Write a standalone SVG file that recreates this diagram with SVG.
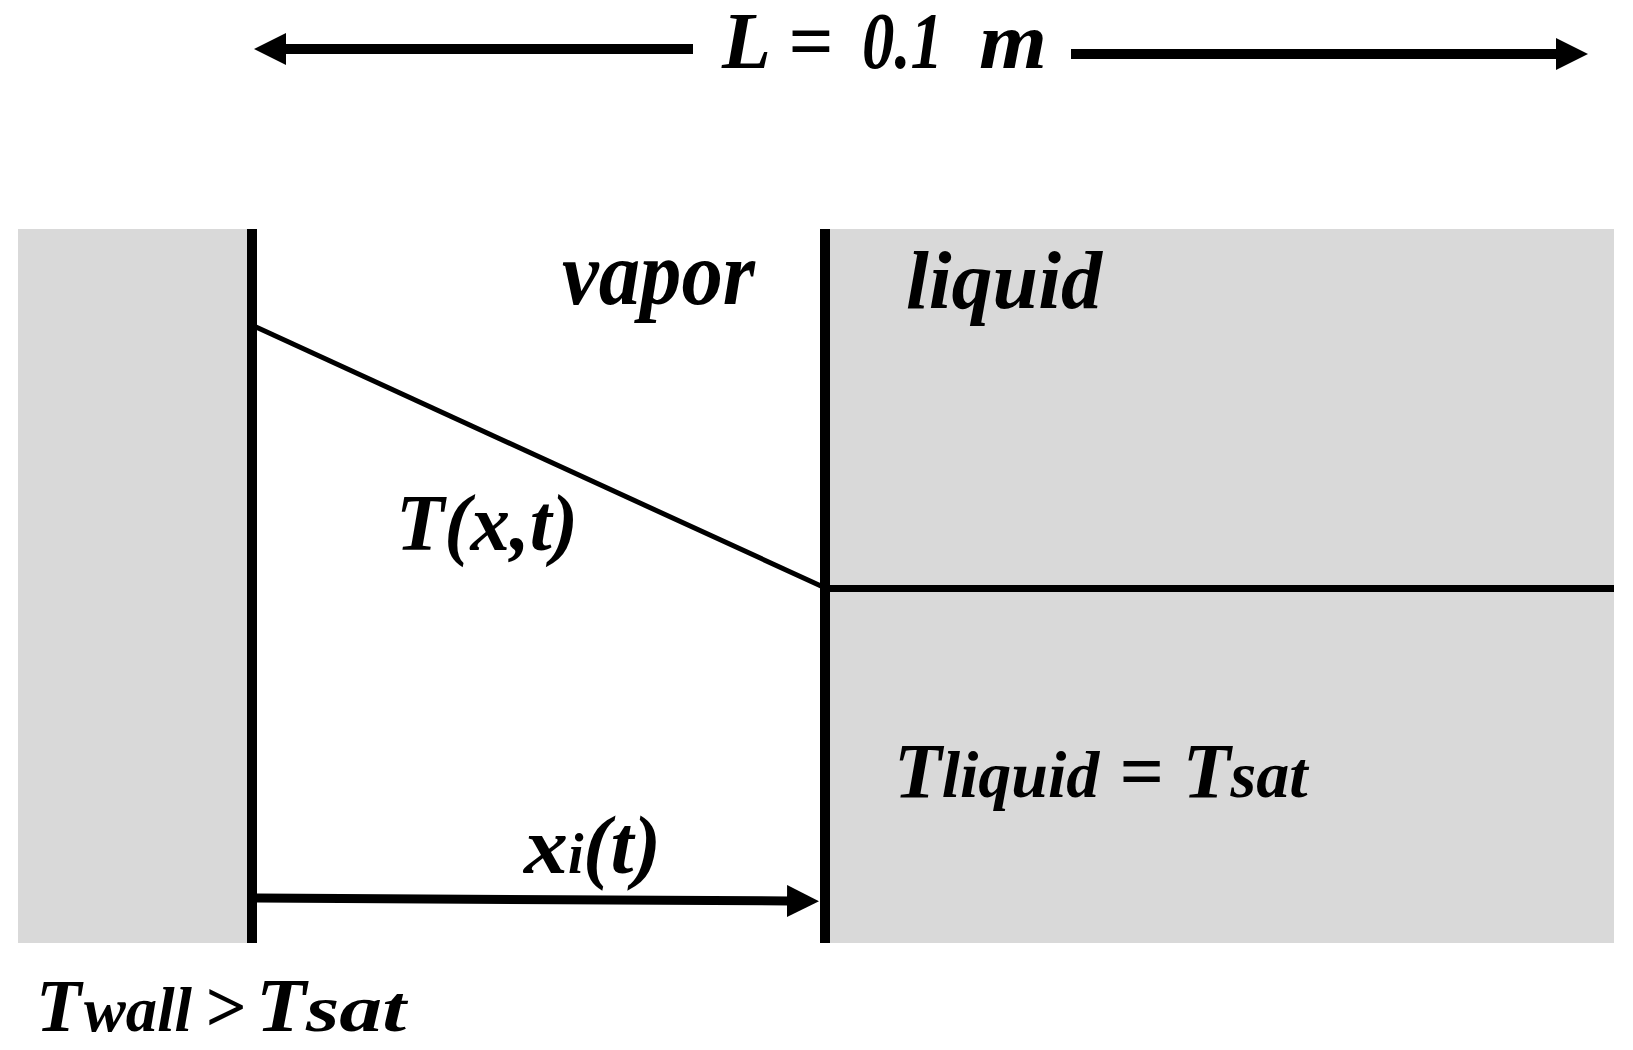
<svg xmlns="http://www.w3.org/2000/svg" width="1633" height="1050" viewBox="0 0 1633 1050">
  <style>
    .t { font-family: "Liberation Serif", "Times New Roman", serif; font-style: italic; font-weight: bold; fill: #000; }
    .wall { stroke: #000; stroke-width: 10; fill: none; }
    .ln { stroke: #000; fill: none; }
  </style>
  <defs>
    <marker id="ah" markerUnits="userSpaceOnUse" viewBox="0 0 32 32" refX="2" refY="16" markerWidth="32" markerHeight="32" orient="auto">
      <path d="M0,0 L32,16 L0,32 Z" fill="#000"/>
    </marker>
  </defs>
  <rect width="1633" height="1050" fill="#fff"/>

  <g id="domain">
    <rect x="18" y="229" width="1596" height="714" fill="#d9d9d9"/>
    <rect x="252" y="229" width="573" height="714" fill="#fff"/>
  </g>

  <g id="connectors">
    <line class="wall" x1="252" y1="229" x2="252" y2="943"/>
    <line class="wall" x1="825" y1="229" x2="825" y2="943" stroke-width="11"/>
    <line class="ln" x1="256" y1="327" x2="821" y2="586" stroke-width="5"/>
    <line class="ln" x1="825" y1="588.5" x2="1614" y2="588.5" stroke-width="7"/>
    <line class="ln" x1="693" y1="49" x2="284" y2="49" stroke-width="10" marker-end="url(#ah)"/>
    <line class="ln" x1="1071" y1="54" x2="1558" y2="54" stroke-width="10" marker-end="url(#ah)"/>
    <line class="ln" x1="257" y1="898" x2="789" y2="901" stroke-width="9" marker-end="url(#ah)"/>
  </g>

  <g id="label-L">
    <text class="t" x="722" y="68" font-size="80" textLength="49" lengthAdjust="spacingAndGlyphs">L</text>
    <text class="t" x="788" y="68" font-size="80" textLength="45" lengthAdjust="spacingAndGlyphs">=</text>
    <text class="t" x="862" y="68" font-size="80" textLength="81" lengthAdjust="spacingAndGlyphs">0.1</text>
    <text class="t" x="979" y="68" font-size="80" textLength="68" lengthAdjust="spacingAndGlyphs">m</text>
  </g>
  <g id="label-vapor">
    <text class="t" x="562" y="304" font-size="90" textLength="193" lengthAdjust="spacingAndGlyphs">vapor</text>
  </g>
  <g id="label-liquid">
    <text class="t" x="906" y="308" font-size="82">liquid</text>
  </g>
  <g id="label-T">
    <text class="t" x="396" y="550" font-size="81" textLength="182" lengthAdjust="spacingAndGlyphs">T(x,t)</text>
  </g>
  <g id="label-Tliquid">
    <text class="t" x="894" y="797" font-size="78">T<tspan font-size="66">liquid</tspan> = T<tspan font-size="66">sat</tspan></text>
  </g>
  <g id="label-xi">
    <text class="t" x="524" y="873" font-size="80" textLength="44" lengthAdjust="spacingAndGlyphs">x</text>
    <text class="t" x="568" y="873" font-size="56">i</text>
    <text class="t" x="583" y="873" font-size="82" textLength="78" lengthAdjust="spacingAndGlyphs">(t)</text>
  </g>
  <g id="label-Twall">
    <text class="t" x="36" y="1031" font-size="74">T</text>
    <text class="t" x="84" y="1031" font-size="64" textLength="108" lengthAdjust="spacingAndGlyphs">wall</text>
    <text class="t" x="204" y="1031" font-size="72">&gt;</text>
    <text class="t" x="256" y="1031" font-size="76" textLength="50" lengthAdjust="spacingAndGlyphs">T</text>
    <text class="t" x="306" y="1031" font-size="66" textLength="100" lengthAdjust="spacingAndGlyphs">sat</text>
  </g>
</svg>
